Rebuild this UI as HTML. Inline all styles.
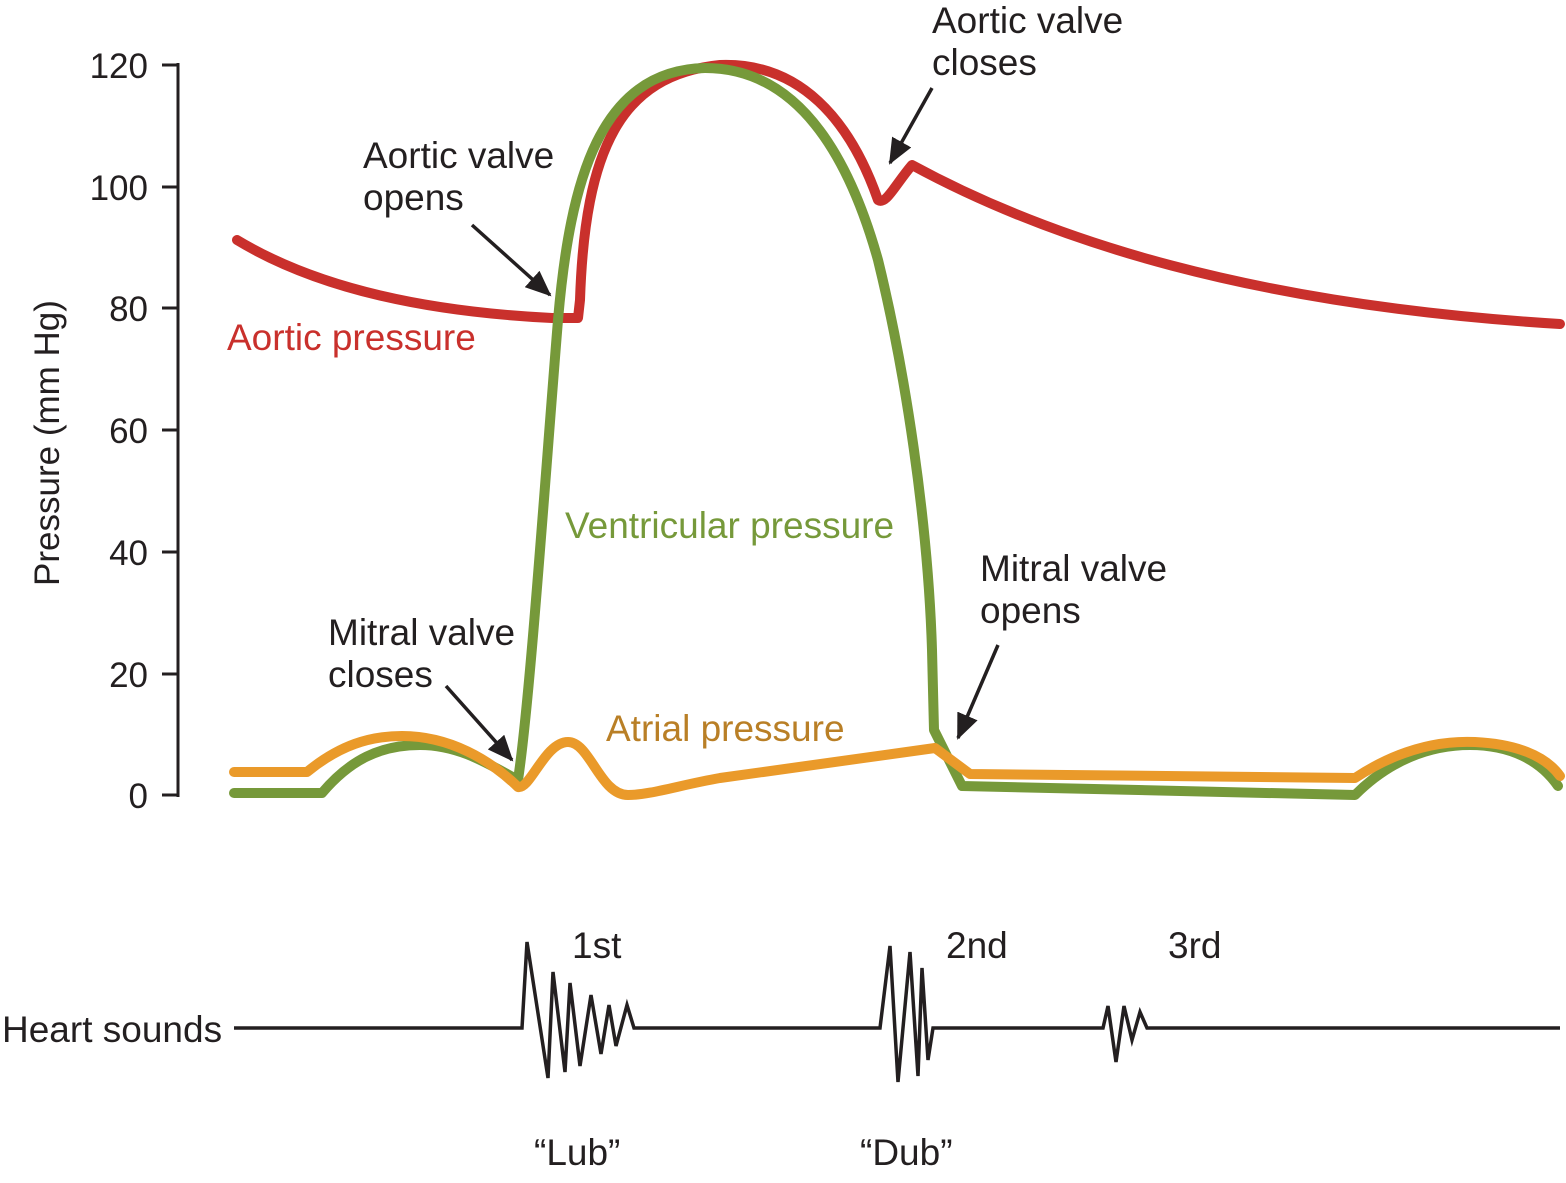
<!DOCTYPE html>
<html><head><meta charset="utf-8"><style>
html,body{margin:0;padding:0;background:#fff;}
svg{display:block;font-family:"Liberation Sans",Arial,sans-serif;}
</style></head><body>
<svg width="1566" height="1183" viewBox="0 0 1566 1183" xmlns="http://www.w3.org/2000/svg">
<defs>
<marker id="a2" markerWidth="26" markerHeight="22" refX="24" refY="11" orient="auto" markerUnits="userSpaceOnUse"><path d="M0,0 L26,11 L0,22 z" fill="#231f20"/></marker></defs>
<g stroke="#231f20" stroke-width="3" fill="none">
<path d="M178,63 V797"/>
<path d="M162,65 H178 M162,187 H178 M162,308 H178 M162,430 H178 M162,552 H178 M162,674 H178 M162,795 H178"/>
</g>
<g font-size="35" fill="#231f20" text-anchor="end">
<text x="148" y="78">120</text><text x="148" y="200">100</text><text x="148" y="321">80</text>
<text x="148" y="443">60</text><text x="148" y="565">40</text><text x="148" y="687">20</text><text x="148" y="808">0</text>
</g>
<text transform="translate(59,443) rotate(-90)" font-size="35" fill="#231f20" text-anchor="middle">Pressure (mm Hg)</text>
<path d="M237,240 C320,290 430,312 552,318 L578,318 L580,300 C585,150 620,75 720,65 C800,62 850,120 878,200 C886,205 895,185 912,165 C1050,240 1250,305 1560,324" fill="none" stroke="#c9302c" stroke-width="10" stroke-linecap="round" stroke-linejoin="round"/>
<path d="M234,793 L322,793 C350,760 380,745 420,745 C460,745 490,765 518,780 C530,700 545,480 558,320 C570,180 600,70 705,68 C800,68 850,160 878,260 C905,370 928,520 932,650 L934,730 L962,786 L1355,795 C1390,760 1430,745 1470,745 C1510,745 1540,760 1558,786" fill="none" stroke="#76993a" stroke-width="10" stroke-linecap="round" stroke-linejoin="round"/>
<path d="M234,772 L307,772 C340,745 370,736 402,736 C450,736 490,760 518,787 C530,790 545,742 568,742 C590,742 600,795 628,795 C650,795 680,785 720,778 L935,748 L970,774 L1355,778 C1390,755 1430,740 1475,742 C1515,744 1545,755 1560,776" fill="none" stroke="#ea9a2a" stroke-width="10" stroke-linecap="round" stroke-linejoin="round"/>
<text x="227" y="350" font-size="37" fill="#c9302c">Aortic pressure</text>
<text x="565" y="538" font-size="37" fill="#76993a">Ventricular pressure</text>
<text x="606" y="741" font-size="37" fill="#b97f26">Atrial pressure</text>
<g font-size="37" fill="#231f20">
<text x="363" y="168">Aortic valve</text><text x="363" y="210">opens</text>
<text x="932" y="33">Aortic valve</text><text x="932" y="75">closes</text>
<text x="328" y="645">Mitral valve</text><text x="328" y="687">closes</text>
<text x="980" y="581">Mitral valve</text><text x="980" y="623">opens</text>
<text x="2" y="1042">Heart sounds</text>
<text x="572" y="958">1st</text><text x="946" y="958">2nd</text><text x="1168" y="958">3rd</text>
<text x="534" y="1165">“Lub”</text><text x="860" y="1165">“Dub”</text>
</g>
<g stroke="#231f20" stroke-width="3.5" fill="none" marker-end="url(#a2)">
<path d="M472,225 L550,295"/>
<path d="M932,88 L890,163"/>
<path d="M446,686 L512,760"/>
<path d="M998,645 L958,738"/>
</g>
<path d="M234,1028 L522,1028 L527,942 L548,1078 L553,972 L565,1072 L570,983 L580,1066 L591,995 L601,1054 L609,1005 L616,1046 L627,1005 L634,1028 L880,1028 L890,946 L898,1082 L910,952 L918,1076 L922,968 L928,1060 L933,1028 L1103,1028 L1108,1006 L1116,1062 L1124,1006 L1132,1040 L1140,1012 L1147,1028 L1560,1028" fill="none" stroke="#231f20" stroke-width="3.5" stroke-linejoin="miter"/>
</svg>
</body></html>
